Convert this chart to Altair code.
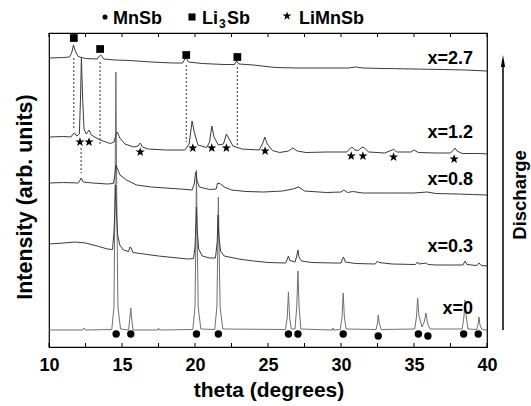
import altair as alt
import pandas as pd

# ---- trace vertices (theta in degrees, intensity in arb. units) ----
trace_x0 = [(10, 17), (12.3, 17), (12.4, 19), (12.5, 17), (14.3, 17.5), (14.45, 40), (14.52, 150),
            (14.58, 275), (14.64, 150), (14.72, 40), (14.9, 18), (15.45, 17), (15.53, 28), (15.6, 39),
            (15.67, 28), (15.75, 17), (17.45, 17), (17.5, 19), (17.55, 17), (19.85, 17.5), (20.0, 40),
            (20.06, 110), (20.1, 177), (20.15, 110), (20.22, 40), (20.4, 18), (21.35, 17.5), (21.5, 40),
            (21.56, 100), (21.6, 150), (21.65, 100), (21.72, 40), (21.9, 18), (26.2, 17.5), (26.32, 30),
            (26.4, 55), (26.48, 30), (26.6, 18), (26.85, 18), (26.97, 40), (27.05, 76), (27.13, 40),
            (27.25, 18), (29.4, 17), (29.45, 19), (29.5, 17), (29.95, 17.5), (30.07, 30), (30.15, 54),
            (30.23, 30), (30.35, 18), (32.4, 17.5), (32.5, 24), (32.55, 32), (32.62, 24), (32.75, 17.5),
            (35.05, 18), (35.17, 30), (35.25, 49), (35.33, 32), (35.55, 20), (35.7, 25), (35.82, 34),
            (35.92, 24), (36.1, 18), (38.3, 18), (38.42, 30), (38.5, 47), (38.58, 30), (38.7, 18),
            (39.3, 17.5), (39.38, 22), (39.45, 30), (39.52, 22), (39.65, 17.5), (40, 17)]

trace_x03 = [(10, 103), (11, 104), (11.8, 105), (12.5, 104), (13.3, 101), (14.0, 98), (14.35, 97.5),
             (14.45, 115), (14.52, 140), (14.56, 162), (14.62, 135), (14.7, 112), (14.85, 102), (15.1, 97),
             (15.45, 95.5), (15.55, 100), (15.62, 99), (15.75, 94.5), (16.5, 93), (17.5, 91), (18.5, 89.5),
             (19.5, 88), (19.9, 88.5), (20.0, 100), (20.07, 125), (20.1, 140), (20.14, 120), (20.25, 98),
             (20.5, 91), (21.0, 89), (21.4, 89), (21.52, 105), (21.58, 132), (21.63, 112), (21.75, 96),
             (22.0, 91), (23, 88), (24, 86), (25, 84.5), (26.2, 84), (26.3, 87), (26.4, 91), (26.5, 86.5),
             (26.85, 85), (26.95, 90), (27.05, 97), (27.12, 90), (27.3, 86), (28, 84.5), (29.5, 84),
             (30.0, 84), (30.1, 88), (30.17, 90), (30.3, 85), (31, 83.5), (32.35, 83), (32.5, 86),
             (32.6, 84.5), (33.5, 83), (35.1, 82.5), (35.25, 85), (35.35, 83), (35.85, 84), (35.95, 82.5),
             (36.5, 82), (37.5, 82), (38.35, 82), (38.5, 86), (38.62, 82.5), (39.3, 81.5), (39.45, 84),
             (39.6, 81.5), (40, 81)]

trace_x08 = [(10, 164), (11, 164.5), (12.0, 164), (12.1, 166), (12.2, 169), (12.35, 165), (13, 164),
             (14, 163), (14.4, 163.5), (14.5, 170), (14.58, 182), (14.7, 178), (14.86, 172), (15.3, 167),
             (16, 162), (17, 160), (18, 159), (19, 158), (19.8, 157), (19.95, 163), (20.05, 175),
             (20.15, 166), (20.3, 160), (21.0, 157.5), (21.45, 158), (21.55, 164), (21.75, 163), (22.0, 160),
             (22.5, 157), (23.5, 155.5), (24.7, 155), (26.0, 156), (26.7, 158), (27.1, 160), (27.5, 156),
             (29.0, 154.5), (30.0, 155), (30.2, 157), (30.45, 154.5), (30.8, 155.5), (31.5, 154), (33, 154),
             (35, 154), (35.9, 155), (36.5, 153.5), (38, 153), (39, 152.5), (40, 152)]

trace_x12 = [(10, 210), (11, 210.5), (11.5, 210), (11.65, 213), (11.75, 214), (11.9, 211), (12.08, 213),
             (12.16, 250), (12.22, 289), (12.3, 250), (12.4, 218), (12.55, 213), (12.75, 217), (12.9, 212),
             (13.5, 207), (14.2, 203.5), (14.45, 205), (14.6, 213), (14.68, 215), (14.85, 209), (15.2, 203),
             (15.8, 200), (16.1, 201), (16.25, 204), (16.4, 200), (16.8, 198), (18, 197), (19.3, 197),
             (19.6, 203), (19.8, 226), (19.95, 215), (20.2, 202), (20.8, 199.5), (21.0, 205), (21.15, 221),
             (21.3, 210), (21.6, 202), (21.95, 203), (22.15, 213), (22.3, 209), (22.6, 201), (23.2, 198),
             (24.4, 197), (24.65, 204), (24.78, 210), (24.95, 203), (25.3, 196.5), (25.8, 194.5),
             (26.4, 196), (26.7, 199), (27.0, 196), (27.6, 194.5), (29, 195), (30.4, 195), (30.65, 199),
             (30.75, 200), (30.95, 197), (31.2, 196.5), (31.45, 200), (31.6, 199), (31.9, 195), (33.0, 194),
             (33.5, 197), (33.6, 198), (33.8, 195), (34.8, 195), (35.0, 197), (35.3, 194.5), (36.5, 194),
             (37.5, 194), (37.7, 197), (37.8, 199), (37.95, 196), (38.3, 193.5), (39.5, 193.5), (40, 193)]

trace_x27 = [(10, 289), (11.0, 289.5), (11.4, 290), (11.55, 294), (11.68, 302), (11.8, 296), (12.0, 290.5),
             (12.5, 288.5), (13.3, 288), (13.45, 291), (13.55, 292), (13.75, 288), (14.5, 287), (15.5, 286.5),
             (17, 285), (18.5, 284), (19.15, 284), (19.3, 288), (19.38, 289.5), (19.55, 285), (20.5, 283.5),
             (22.0, 282.5), (22.7, 282.5), (22.85, 286), (23.0, 283), (24, 282), (25.5, 279.5), (27, 279),
             (28.5, 279), (30.5, 279), (31.0, 280), (31.5, 279), (33, 278.5), (35, 278), (37, 277.5),
             (38.5, 277), (40, 276)]

series_names = ["x=0", "x=0.3", "x=0.8", "x=1.2", "x=2.7"]
series_traces = [trace_x0, trace_x03, trace_x08, trace_x12, trace_x27]
series_colors = ["#707070", "#3a3a3a", "#3a3a3a", "#3a3a3a", "#3a3a3a"]

# phase markers
mnsb_theta = [14.6, 15.6, 20.1, 21.6, 26.4, 27.05, 30.15, 32.55, 35.3, 35.95, 38.4, 39.4]
mnsb_int = [13, 13, 13, 13, 13, 13, 13, 11, 13, 11, 13, 13]
li3sb_theta = [11.7, 13.5, 19.4, 22.9]
li3sb_int = [309, 298, 292, 290]
limnsb_theta = [12.12, 12.74, 16.25, 19.85, 21.15, 22.15, 24.8, 30.7, 31.5, 33.6, 37.75]
limnsb_int = [205, 205, 195, 199, 199, 199, 196, 191, 191, 190, 188]

# dotted guide lines (theta, from, to)
guide_theta = [11.7, 13.5, 19.4, 22.9, 12.2]
guide_from = [289, 285, 282, 280, 199]
guide_to = [217, 202, 205, 199, 174]

# curve labels
label_text = ["x=2.7", "x=1.2", "x=0.8", "x=0.3", "x=0"]
label_theta = [39.05, 39.05, 39.05, 39.05, 39.05]
label_int = [288, 214, 167, 100, 38]

tick_values = [10, 12.5, 15, 17.5, 20, 22.5, 25, 27.5, 30, 32.5, 35, 37.5, 40]
label_values = [10, 15, 20, 25, 30, 35, 40]

FONT = "Liberation Sans"
STAR = "M0,-1L0.235,-0.324L0.951,-0.309L0.38,0.124L0.588,0.809L0,0.4L-0.588,0.809L-0.38,0.124L-0.951,-0.309L-0.235,-0.324Z"
ARROWHEAD = "M0,-1L0.35,1L-0.35,1Z"

rows = []
for name, tr in zip(series_names, series_traces):
    for i, (t, v) in enumerate(tr):
        rows.append({"series": name, "theta": t, "intensity": v, "order": i})
df = pd.DataFrame(rows)

xs = alt.Scale(domain=[10, 40], nice=False, zero=False)
ys = alt.Scale(domain=[0, 314], nice=False, zero=False)
xaxis = alt.Axis(values=label_values, ticks=False, domain=False, grid=False, title=None,
                 labelFont=FONT, labelFontWeight="bold", labelFontSize=18, labelColor="black",
                 labelPadding=9, labelFlush=False)
X = alt.X("theta:Q", scale=xs, axis=xaxis)
Y = alt.Y("intensity:Q", scale=ys, axis=None)

traces = alt.Chart(df).mark_line(strokeWidth=1).encode(
    x=X, y=Y, detail="series:N", order="order:Q",
    color=alt.Color("series:N", scale=alt.Scale(domain=series_names, range=series_colors), legend=None),
)

gdf = pd.DataFrame({"theta": guide_theta, "y1": guide_from, "y2": guide_to})
guides = alt.Chart(gdf).mark_rule(strokeDash=[2, 2], strokeWidth=1, color="#333").encode(
    x=X, y=alt.Y("y1:Q", scale=ys, axis=None), y2="y2:Q")

dots = alt.Chart(pd.DataFrame({"theta": mnsb_theta, "intensity": mnsb_int})).mark_point(
    shape="circle", filled=True, size=55, color="black", opacity=1).encode(x=X, y=Y)
squares = alt.Chart(pd.DataFrame({"theta": li3sb_theta, "intensity": li3sb_int})).mark_point(
    shape="square", filled=True, size=60, color="black", opacity=1).encode(x=X, y=Y)
stars = alt.Chart(pd.DataFrame({"theta": limnsb_theta, "intensity": limnsb_int})).mark_point(
    shape=STAR, filled=True, size=95, color="black", opacity=1).encode(x=X, y=Y)

labels = alt.Chart(pd.DataFrame({"theta": label_theta, "intensity": label_int, "text": label_text})).mark_text(
    align="right", baseline="middle", font=FONT, fontWeight="bold", fontSize=18, color="black").encode(
    x=X, y=Y, text="text:N")

tdf = pd.DataFrame({"theta": tick_values})
ticks_bottom = alt.Chart(tdf).mark_rule(color="black", strokeWidth=1).encode(
    x=X, y=alt.value(314), y2=alt.value(310))
ticks_top = alt.Chart(tdf).mark_rule(color="black", strokeWidth=1).encode(
    x=X, y=alt.value(0), y2=alt.value(4))

one = pd.DataFrame({"a": [0]})


def txt(s, x, y, size=18, angle=0, align="left", baseline="alphabetic"):
    kw = dict(text=s, font=FONT, fontWeight="bold", fontSize=size, color="black", align=align, baseline=baseline)
    if angle:
        kw["angle"] = angle
    return alt.Chart(one).mark_text(**kw).encode(x=alt.value(x), y=alt.value(y))


def sym(shape, x, y, size):
    return alt.Chart(one).mark_point(shape=shape, filled=True, size=size, color="black", opacity=1).encode(
        x=alt.value(x), y=alt.value(y))


legend = [
    sym("circle", 56, -16, 26), txt("MnSb", 64, -9),
    sym("square", 143, -16, 50), txt("Li", 153, -9), txt("3", 170, -5, size=12), txt("Sb", 178, -9),
    sym(STAR, 238, -17, 85), txt("LiMnSb", 250, -9),
]

titles = [
    txt("theta (degrees)", 220, 364, size=21, align="center"),
    txt("Intensity (arb. units)", -17, 164, size=21.5, angle=270, align="center"),
    txt("Discharge", 477, 162, size=18.5, angle=270, align="center"),
]

arrow = [
    alt.Chart(one).mark_rule(color="black", strokeWidth=1.5).encode(
        x=alt.value(454), y=alt.value(297), y2=alt.value(30)),
    sym(ARROWHEAD, 454, 28, 144),
]

chart = alt.layer(traces, guides, dots, squares, stars, labels, ticks_bottom, ticks_top,
                  *legend, *titles, *arrow).properties(
    width=438, height=314,
    padding={"left": 49, "top": 33, "right": 44, "bottom": 59},
    autosize=alt.AutoSizeParams(type="none"),
    background="white",
).configure_view(stroke="black", strokeWidth=1.2)

chart.save("out.html", embed_options={"renderer": "svg", "actions": False})
